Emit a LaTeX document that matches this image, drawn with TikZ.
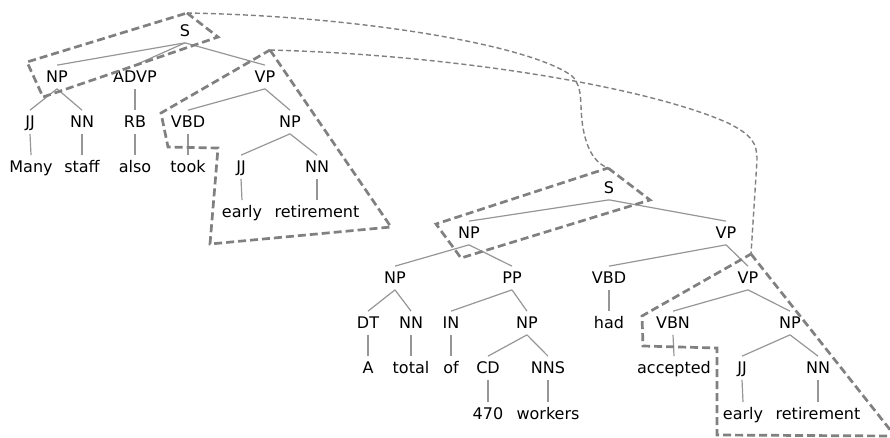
\documentclass[tikz,border=0pt]{standalone}
\usepackage{fontspec}
\setmainfont{DejaVu Sans}
\definecolor{outl}{RGB}{128,128,128}
\definecolor{edge}{RGB}{150,150,150}
\tikzset{
  lbl/.style={inner xsep=0pt, inner ysep=5.8pt, text height=11.7pt, text depth=0pt,
     font=\fontsize{16}{16}\selectfont, anchor=center},
  tedge/.style={draw=edge, line width=1.2pt},
  outline/.style={draw=outl, line width=2.7pt, dash pattern=on 8pt off 4pt, line join=miter},
  link/.style={draw=outl, line width=1.4pt, dash pattern=on 5pt off 3pt},
}
\begin{document}
\begin{tikzpicture}[x=1pt,y=-1pt]
\useasboundingbox (0,0) rectangle (890,437);
% ---------- Tree 1 ----------
\node[lbl] (S1) at (185,31) {S};
\node[lbl] (NP1) at (57,77) {NP};
\node[lbl] (ADVP) at (135,77) {ADVP};
\node[lbl] (VP1) at (265,77) {VP};
\node[lbl] (JJ1) at (30,122) {JJ};
\node[lbl] (NN1) at (82,122) {NN};
\node[lbl] (RB) at (135,122) {RB};
\node[lbl] (VBD1) at (188,122) {VBD};
\node[lbl] (NP1b) at (290,122) {NP};
\node[lbl] (Many) at (31,167) {Many};
\node[lbl] (staff) at (82,167) {staff};
\node[lbl] (also) at (135,167) {also};
\node[lbl] (took) at (188,167) {took};
\node[lbl] (JJ1b) at (241,167) {JJ};
\node[lbl] (NN1b) at (317,167) {NN};
\node[lbl] (early1) at (242,212) {early};
\node[lbl] (ret1) at (317,212) {retirement};
\foreach \p/\c in {S1/NP1,S1/ADVP,S1/VP1,NP1/JJ1,NP1/NN1,ADVP/RB,VP1/VBD1,VP1/NP1b,
  JJ1/Many,NN1/staff,RB/also,VBD1/took,NP1b/JJ1b,NP1b/NN1b,JJ1b/early1,NN1b/ret1}
  \draw[tedge] (\p.south) -- (\c.north);
% ---------- Tree 2 ----------
\node[lbl] (S2) at (609,188) {S};
\node[lbl] (NP2) at (469,233) {NP};
\node[lbl] (VP2) at (726,233) {VP};
\node[lbl] (NP2a) at (395,278) {NP};
\node[lbl] (PP2) at (512,278) {PP};
\node[lbl] (VBD2) at (609,278) {VBD};
\node[lbl] (VP2b) at (748,278) {VP};
\node[lbl] (DT) at (368,323) {DT};
\node[lbl] (NN2a) at (411,323) {NN};
\node[lbl] (IN) at (451,323) {IN};
\node[lbl] (NP2b) at (527,323) {NP};
\node[lbl] (had) at (609,323) {had};
\node[lbl] (VBN) at (673,323) {VBN};
\node[lbl] (NP2c) at (790,323) {NP};
\node[lbl] (A) at (368,368) {A};
\node[lbl] (total) at (411,368) {total};
\node[lbl] (of) at (451,368) {of};
\node[lbl] (CD) at (488,368) {CD};
\node[lbl] (NNS) at (548,368) {NNS};
\node[lbl] (accepted) at (674,368) {accepted};
\node[lbl] (JJ2) at (742,368) {JJ};
\node[lbl] (NN2c) at (818,368) {NN};
\node[lbl] (n470) at (488,414) {470};
\node[lbl] (workers) at (548,414) {workers};
\node[lbl] (early2) at (743,414) {early};
\node[lbl] (ret2) at (818,414) {retirement};
\foreach \p/\c in {S2/NP2,S2/VP2,NP2/NP2a,NP2/PP2,VP2/VBD2,VP2/VP2b,NP2a/DT,NP2a/NN2a,
  PP2/IN,PP2/NP2b,VBD2/had,VP2b/VBN,VP2b/NP2c,DT/A,NN2a/total,IN/of,NP2b/CD,NP2b/NNS,
  VBN/accepted,NP2c/JJ2,NP2c/NN2c,CD/n470,NNS/workers,JJ2/early2,NN2c/ret2}
  \draw[tedge] (\p.south) -- (\c.north);
% ---------- outlines ----------
\coordinate (o1) at (187,13);
\coordinate (o2) at (270,50);
\coordinate (o3) at (608,168);
\coordinate (o4) at (751,254);
\draw[outline] (o1) -- (218,37) -- (43,97) -- (27,62) -- cycle;
\draw[outline] (o2) -- (391,227) -- (210,244) -- (218,148) -- (168,147) -- (161,113) -- cycle;
\draw[outline] (o3) -- (650,200) -- (461,258) -- (436,224) -- cycle;
\draw[outline] (o4) -- (895,436) -- (717,435) -- (717,348) -- (643,346) -- (642,316) -- cycle;
% ---------- links ----------
\draw[link] (o1) .. controls (360,16) and (530,45) .. (572,76)
  .. controls (584,88) and (579,105) .. (583,128)
  .. controls (587,150) and (595,163) .. (o3);
\draw[link] (o2) .. controls (460,55) and (650,88) .. (728,123)
  .. controls (752,135) and (757,143) .. (757,160)
  -- (o4);
\end{tikzpicture}
\end{document}
